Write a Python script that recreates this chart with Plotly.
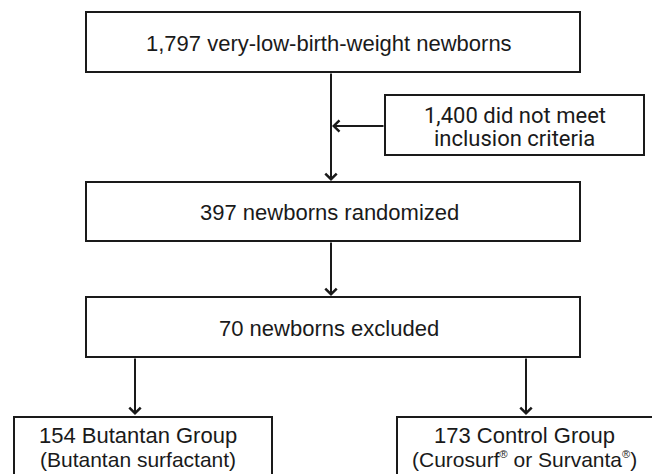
import plotly.graph_objects as go

# ---- data ----
stage_counts = [1797, 397, 70]
stage_text = ["very-low-birth-weight newborns", "newborns randomized", "newborns excluded"]
excluded_count = 1400
excluded_text = ["did not meet", "inclusion criteria"]
group_counts = [154, 173]
group_names = ["Butantan Group", "Control Group"]
REG = '<sup><span style="font-size:11px">®</span></sup>'
group_details = ["(Butantan surfactant)", f"(Curosurf{REG} or Survanta{REG})"]

# ---- layout geometry (pixels, y downward) ----
W, H = 652, 474
main_x = (86, 580)
main_rows = [(12, 72), (182, 241), (297, 357)]
main_cx = 331
side_box = (385, 644, 95, 155)
group_x = [(14, 272), (397, 662)]
group_y = (417, 520)
group_cx = [138, 524]
branch_x = [135, 526]

LINE = "#1a1a1a"
TXT = "#1a1a1a"
FONT = "Liberation Sans, Arial, sans-serif"
FS = 22

fig = go.Figure()
shapes = []
ann = []

def rect(x0, x1, y0, y1):
    shapes.append(dict(type="rect", xref="x", yref="y", x0=x0, x1=x1, y0=y0, y1=y1,
                       line=dict(color=LINE, width=2), fillcolor="rgba(0,0,0,0)"))

def text(x, y, s, font=FONT, size=FS):
    ann.append(dict(x=x, y=y, xref="x", yref="y", text=s, showarrow=False,
                    xanchor="center", yanchor="middle",
                    font=dict(family=font, size=size, color=TXT)))

def arrow(x0, y0, x1, y1):
    ann.append(dict(x=x1, y=y1, ax=x0, ay=y0, xref="x", yref="y", axref="x", ayref="y",
                    text="", showarrow=True, arrowhead=4, arrowsize=1.1, arrowwidth=2,
                    arrowcolor=LINE, standoff=0, startstandoff=0))

# main stages
for (y0, y1), c, t in zip(main_rows, stage_counts, stage_text):
    rect(main_x[0], main_x[1], y0, y1)
    text(main_cx - 2, (y0 + y1) / 2 + 1, f"{c:,} {t}")

# side box
sx0, sx1, sy0, sy1 = side_box
rect(sx0, sx1, sy0, sy1)
scx = (sx0 + sx1) / 2
text(scx, 115, f"{excluded_count:,} {excluded_text[0]}", font="Roboto, sans-serif")
text(scx, 138, excluded_text[1], font="Roboto, sans-serif")

# groups
for (gx0, gx1), cx, c, n, d in zip(group_x, group_cx, group_counts, group_names, group_details):
    rect(gx0, gx1, group_y[0], group_y[1])
    text(cx, 435, f"{c} {n}")
    text(cx, 459, d, size=21)

# arrows
arrow(main_cx, main_rows[0][1], main_cx, main_rows[1][0] - 1)
arrow(sx0, 126, main_cx + 1, 126)
arrow(main_cx, main_rows[1][1], main_cx, main_rows[2][0] - 1)
for bx in branch_x:
    arrow(bx, main_rows[2][1], bx, group_y[0] - 2)

fig.update_layout(
    width=W, height=H,
    margin=dict(l=0, r=0, t=0, b=0),
    paper_bgcolor="white", plot_bgcolor="white",
    xaxis=dict(range=[0, W], visible=False, fixedrange=True),
    yaxis=dict(range=[H, 0], visible=False, fixedrange=True),
    shapes=shapes, annotations=ann, showlegend=False,
)

fig.write_html("out.html", config={"displayModeBar": False},
               post_script="document.body.style.margin='0';document.body.style.overflow='hidden';")
